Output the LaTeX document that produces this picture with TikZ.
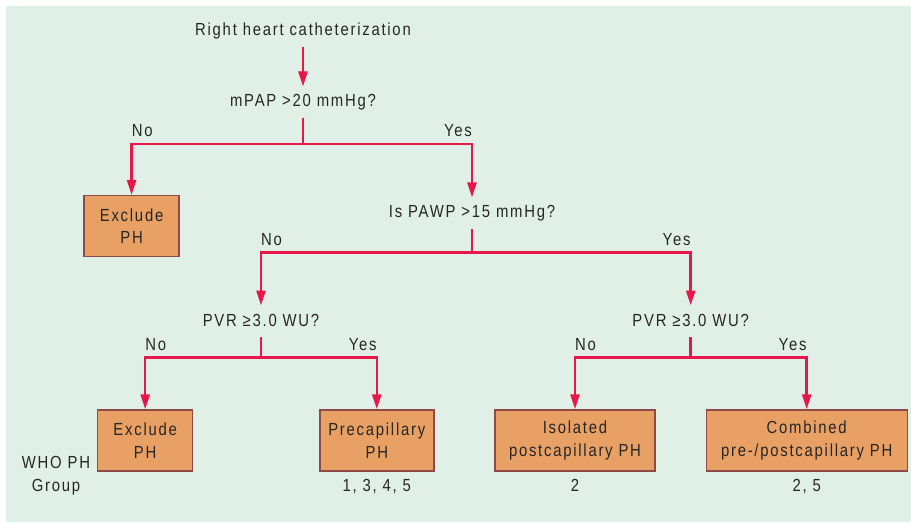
\documentclass[tikz,border=0pt]{standalone}
\usepackage{fontspec}
\setmainfont[FakeStretch=0.85,LetterSpace=10]{Liberation Sans}
\usetikzlibrary{arrows.meta}
\definecolor{bg}{HTML}{E1F0E6}
\definecolor{boxfill}{HTML}{E8A064}
\definecolor{boxline}{HTML}{8E4A48}
\definecolor{flow}{HTML}{E8174A}
\definecolor{ink}{HTML}{262626}

\begin{document}
\begin{tikzpicture}[x=1pt,y=-1pt,
  font=\fontsize{17.5}{20}\selectfont, text=ink,
  outcome/.style={draw=boxline, line width=1.4pt, fill=boxfill,
    minimum height=61pt, align=center, inner sep=0pt,
    font=\fontsize{17.5}{22.6}\selectfont},
  question/.style={anchor=base, inner sep=0pt, text height=12.5pt,
    text depth=3pt, outer ysep=8pt},
  answer/.style={inner sep=0pt},
  link/.style={draw=flow, line width=2.5pt},
  arrow/.style={link, -{Triangle[length=15pt,width=9pt]}}
]
\useasboundingbox (0,0) rectangle (911,524);
\fill[bg] (6,6) rectangle (911,522);

% questions
\node[question] (rhc)  at (303,36)    {Right heart catheterization};
\node[question] (mpap) at (303,107)   {mPAP >20 mmHg?};
\node[question] (pawp) at (472,218)   {Is PAWP >15 mmHg?};
\node[question] (pvrA) at (261,326)   {PVR ≥3.0 WU?};
\node[question] (pvrB) at (690.7,326) {PVR ≥3.0 WU?};

% outcomes
\node[outcome, minimum width=95pt]  (exA) at (131.6,226.2) {Exclude\\PH};
\node[outcome, minimum width=95pt]  (exB) at (145.2,440.5) {Exclude\\PH};
\node[outcome, minimum width=114pt] (pre) at (376.8,440.5) {Precapillary\\PH};
\node[outcome, minimum width=160pt] (iso) at (575,440.5)   {Isolated\\postcapillary PH};
\node[outcome, minimum width=201pt] (cmb) at (806.7,440.5) {Combined\\pre-/postcapillary PH};

% junctions where each question splits
\coordinate (jA) at (303,144);
\coordinate (jB) at (472,252.7);
\coordinate (jC) at (261,357.5);
\coordinate (jD) at (690.7,357.5);

% connectors
\draw[arrow] (rhc) -- (mpap);
\draw[link]  (mpap) -- (jA);
\draw[arrow] (jA) -| (exA.north);
\draw[arrow] (jA) -| (pawp.north);
\draw[link]  (pawp) -- (jB);
\draw[arrow] (jB) -| (pvrA.north);
\draw[arrow] (jB) -| (pvrB.north);
\draw[link]  (pvrA) -- (jC);
\draw[arrow] (jC) -| (exB.north);
\draw[arrow] (jC) -| (pre.north);
\draw[link]  (pvrB) -- (jD);
\draw[arrow] (jD) -| (iso.north);
\draw[arrow] (jD) -| (cmb.north);

% branch labels
\node[answer, anchor=base west] (noA)  at (131.6,136.7) {No};
\node[answer, anchor=base east] (yesA) at (472,136.7)   {Yes};
\node[answer, anchor=base west] (noB)  at (261,245.5)   {No};
\node[answer, anchor=base east] (yesB) at (690.7,245.5) {Yes};
\node[answer, anchor=base west] (noC)  at (145.2,350.7) {No};
\node[answer, anchor=base east] (yesC) at (376.8,350.7) {Yes};
\node[answer, anchor=base west] (noD)  at (575,350.7)   {No};
\node[answer, anchor=base east] (yesD) at (806.7,350.7) {Yes};

% WHO group row
\node[answer, anchor=base, align=center, font=\fontsize{17.5}{23.3}\selectfont]
  (who) at (56,491.7) {WHO PH\\Group};
\node[answer, anchor=base] (gPre) at (376.8,491.7) {1, 3, 4, 5};
\node[answer, anchor=base] (gIso) at (575,491.7)   {2};
\node[answer, anchor=base] (gCmb) at (806.7,491.7) {2, 5};
\end{tikzpicture}
\end{document}
